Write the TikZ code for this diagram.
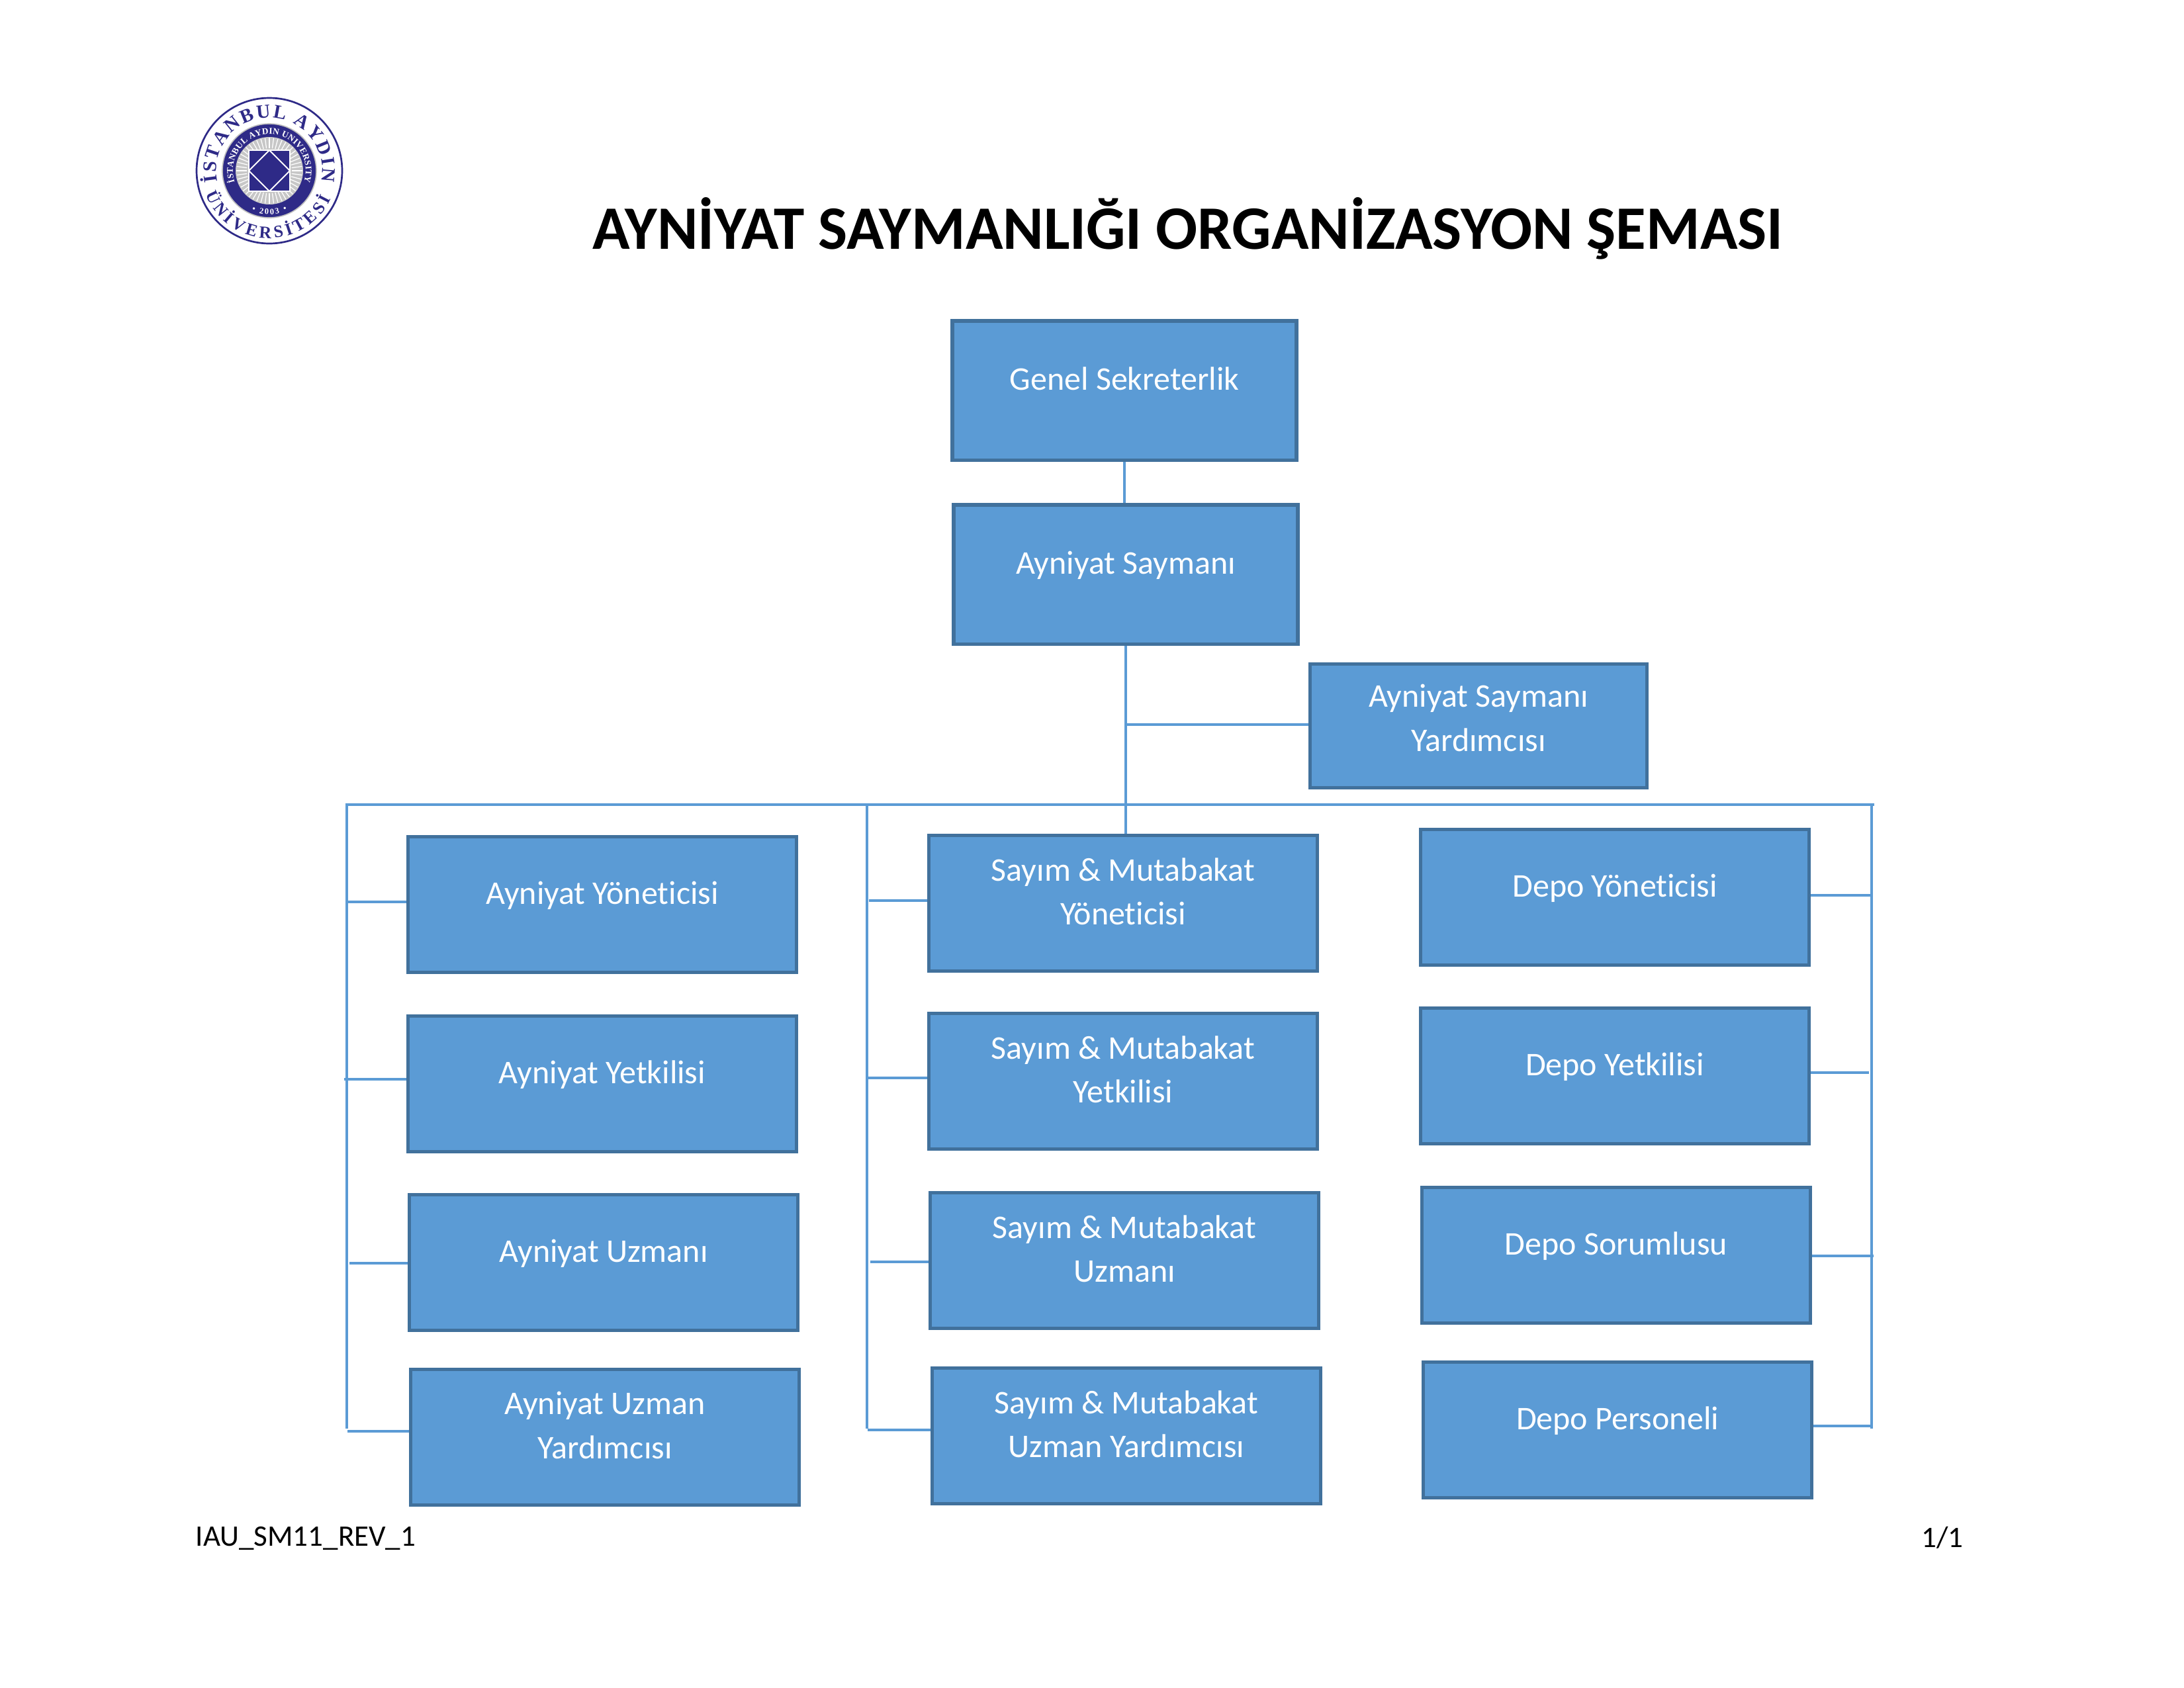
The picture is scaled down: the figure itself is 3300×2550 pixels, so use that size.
\documentclass[tikz,border=0pt]{standalone}
\usepackage{fontspec}
\setmainfont{Carlito}[Ligatures = NoCommon]
\newfontfamily\sealfont{Liberation Serif}
\usepackage{tikz}
\usetikzlibrary{decorations.text}

\definecolor{boxFill}{HTML}{5B9BD5}
\definecolor{boxEdge}{HTML}{41719C}
\definecolor{sealBlue}{HTML}{2E2A87}

\tikzset{
    orgbox/.style = {draw = boxEdge,fill = boxFill,line width = 1.3pt,text = white,align = center,
        font = \fontsize{12}{16}\selectfont,text depth = 8.6pt,inner sep = 0pt},
    topbox/.style = {orgbox,minimum width = 124.8pt,minimum height = 50.5pt},
    helpbox/.style = {orgbox,minimum width = 122.2pt,minimum height = 45pt,text depth = 6pt},
    staffbox/.style = {orgbox,minimum width = 141pt,minimum height = 49.2pt},
    link/.style = {draw = boxFill,line width = 0.8pt},
    plaintext/.style = {font = \fontsize{10.8}{13}\selectfont,inner sep = 0pt},
    sealtext/.style n args = {4}{postaction = {decorate,decoration = {text along path,text align = {fit to path},
        text color = #2,raise = #3,text = {|\sealfont\bfseries\fontsize{#1}{#1}\selectfont|#4}}}}
}

\begin{document}
\begin{tikzpicture}[x = 0.24pt,y = -0.24pt]
    \useasboundingbox (0,0) rectangle (3300,2550);

    \node[font = \fontsize{22.4}{26}\selectfont\bfseries,inner sep = 0pt](title) at (1795,345) {AYNİYAT SAYMANLIĞI ORGANİZASYON ŞEMASI};

    \node[topbox](genelSekreterlik) at (1699,590) {Genel Sekreterlik};
    \node[topbox](ayniyatSaymani) at (1701,868) {Ayniyat Saymanı};
    \node[helpbox](saymanYardimcisi) at (2234,1097) {Ayniyat Saymanı\\Yardımcısı};

    \node[staffbox](ayniyatYoneticisi) at (910,1367) {Ayniyat Yöneticisi};
    \node[staffbox](ayniyatYetkilisi) at (910,1638) {Ayniyat Yetkilisi};
    \node[staffbox](ayniyatUzmani) at (912,1908) {Ayniyat Uzmanı};
    \node[staffbox](ayniyatUzmanYrd) at (914,2172) {Ayniyat Uzman\\Yardımcısı};

    \node[staffbox](sayimYoneticisi) at (1697,1365) {Sayım \& Mutabakat\\Yöneticisi};
    \node[staffbox](sayimYetkilisi) at (1697,1634) {Sayım \& Mutabakat\\Yetkilisi};
    \node[staffbox](sayimUzmani) at (1699,1905) {Sayım \& Mutabakat\\Uzmanı};
    \node[staffbox](sayimUzmanYrd) at (1702,2170) {Sayım \& Mutabakat\\Uzman Yardımcısı};

    \node[staffbox](depoYoneticisi) at (2440,1356) {Depo Yöneticisi};
    \node[staffbox](depoYetkilisi) at (2440,1626) {Depo Yetkilisi};
    \node[staffbox](depoSorumlusu) at (2442,1897) {Depo Sorumlusu};
    \node[staffbox](depoPersoneli) at (2444,2161) {Depo Personeli};

    \node[plaintext,anchor = west](formCode) at (295,2325) {IAU\_SM11\_REV\_1};
    \node[plaintext,anchor = east](pageNo) at (2967,2324) {1/1};

    % bus above the three columns
    \coordinate (busLeft) at (522,1216);
    \coordinate (busMid) at (1310,1216);
    \coordinate (busRight) at (2832,1216);
    \coordinate (busLeftEnd) at (524,2159);
    \coordinate (busMidEnd) at (1310,2159);
    \coordinate (busRightEnd) at (2828,2159);
    \coordinate (helpJoin) at (1700,1095);

    \draw[link] (genelSekreterlik.south) -- (genelSekreterlik.south |- ayniyatSaymani.north);
    \draw[link] (ayniyatSaymani.south) -- (ayniyatSaymani.south |- busMid);
    \draw[link] (ayniyatSaymani.south |- busMid) -- (sayimYoneticisi.north -| ayniyatSaymani.south);
    \draw[link] (helpJoin) -- (saymanYardimcisi.west |- helpJoin);
    \draw[link] (busLeft) -- (busRight);
    \draw[link] (busLeft -| busLeftEnd) -- (busLeftEnd);
    \draw[link] (busMid) -- (busMidEnd);
    \draw[link] (busRight -| busRightEnd) -- (busRightEnd);

    \foreach \boxName/\x/\y in {ayniyatYoneticisi/525/1363,ayniyatYetkilisi/520/1631,ayniyatUzmani/528/1909,ayniyatUzmanYrd/525/2163,
        sayimYoneticisi/1313/1361,sayimYetkilisi/1308/1629,sayimUzmani/1315/1907,sayimUzmanYrd/1311/2161}{
        \coordinate (stub\boxName) at (\x,\y);
        \draw[link] (stub\boxName) -- (\boxName.west |- stub\boxName);
    }
    \foreach \boxName/\x/\y in {depoYoneticisi/2828/1353,depoYetkilisi/2824/1621,depoSorumlusu/2831/1898,depoPersoneli/2828/2155}{
        \coordinate (stub\boxName) at (\x,\y);
        \draw[link] (\boxName.east |- stub\boxName) -- (stub\boxName);
    }

    % university seal
    \begin{scope}[shift = {(407,258)},x = 0.24pt,y = 0.24pt]
    \draw[sealBlue,line width = 0.65pt] (0,0) circle [radius = 110];
    \fill[sealBlue,draw = black!25,line width = 0.4pt] (0,0) circle [radius = 71];
    \fill[black!22] (0,0) circle [radius = 51];
    \foreach \a in {0,7.5,...,352.5}{
        \draw[white,line width = 0.3pt] (\a:34) -- (\a:50);
    }
    \fill[sealBlue,draw = white,line width = 0.4pt] (-31,-31) rectangle (31,31);
    \draw[white,line width = 0.5pt] (0,31) -- (31,0) -- (0,-31) -- (-31,0) -- cycle;
    \path[sealtext = {7}{sealBlue}{0pt}{İSTANBUL AYDIN}] (192:80) arc [start angle = 192,end angle = -12,radius = 80];
    \path[sealtext = {6.2}{sealBlue}{0pt}{ÜNİVERSİTESİ }] (200:102) arc [start angle = 200,end angle = 342,radius = 102];
    \path[sealtext = {3.2}{white}{0pt}{İSTANBUL AYDIN UNIVERSITY}] (198:55) arc [start angle = 198,end angle = -18,radius = 55];
    \path[sealtext = {3}{white}{0pt}{• 2003 •}] (246:66) arc [start angle = 246,end angle = 294,radius = 66];
    \end{scope}
\end{tikzpicture}
\end{document}
